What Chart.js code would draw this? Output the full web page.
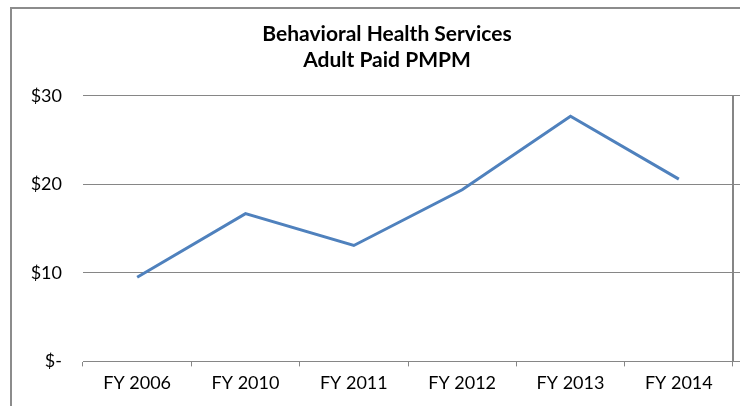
<!DOCTYPE html>
<html>
<head>
<meta charset="utf-8">
<script src="https://cdn.jsdelivr.net/npm/chart.js@4"></script>
<style>
  body { margin: 0; background: #fff; }
  #wrap { width: 740px; height: 406px; overflow: hidden; }
</style>
</head>
<body>
<div id="wrap"><canvas id="chart" width="774" height="406"></canvas></div>
<script>
// Data
const titleLines = ['Behavioral Health Services', 'Adult Paid PMPM'];
const categories = ['FY 2006', 'FY 2010', 'FY 2011', 'FY 2012', 'FY 2013', 'FY 2014'];
const pmpmValues = [9.5, 16.7, 13.1, 19.4, 27.7, 20.6];
const yTicks = [0, 10, 20, 30];

const gridGray = '#868686';

// Excel-style chart frame around the whole chart
const framePlugin = {
    id: 'frame',
    beforeDraw(chart) {
        const c = chart.ctx;
        c.save();
        c.fillStyle = '#fff';
        c.fillRect(0, 0, chart.width, chart.height);
        c.strokeStyle = '#8c8c8c';
        c.lineWidth = 2;
        c.strokeRect(11, 8, chart.width - 22, chart.height + 20);
        c.restore();
    }
};

const fixedTicks = scale => { scale.ticks = yTicks.map(v => ({ value: v })); };

new Chart(document.getElementById('chart'), {
    type: 'line',
    data: {
        labels: categories,
        datasets: [{
            data: pmpmValues,
            borderColor: '#4f81bd',
            borderWidth: 3,
            pointRadius: 0,
            tension: 0,
            fill: false
        }]
    },
    options: {
        responsive: false,
        animation: false,
        layout: { padding: { left: 11, right: 11, top: 8, bottom: 6 } },
        plugins: {
            legend: { display: false },
            tooltip: { enabled: false },
            title: {
                display: true,
                text: titleLines,
                color: '#000',
                font: { family: 'Lato', size: 21, weight: 'bold', lineHeight: 1.2 },
                padding: { top: 14, bottom: 23.5 }
            }
        },
        scales: {
            x: {
                offset: true,
                grid: {
                    offset: true,
                    drawOnChartArea: false,
                    drawTicks: true,
                    tickLength: 5,
                    color: gridGray
                },
                border: { display: true, color: gridGray, width: 1 },
                ticks: {
                    color: '#000',
                    font: { family: 'Lato', size: 18 },
                    padding: 6,
                    maxRotation: 0
                }
            },
            y: {
                min: 0,
                max: 30,
                afterBuildTicks: fixedTicks,
                afterFit: scale => { scale.width = 72; },
                grid: { drawTicks: false, color: gridGray, lineWidth: 1 },
                border: { display: false },
                ticks: {
                    color: '#000',
                    font: { family: 'Lato', size: 18 },
                    padding: 21,
                    callback: v => v === 0 ? '$-' : '$' + v
                }
            },
            // the bare vertical axis on the right side of the plot
            y2: {
                position: 'right',
                min: 0,
                max: 30,
                afterBuildTicks: fixedTicks,
                afterFit: scale => { scale.width = 30; },
                grid: { drawOnChartArea: false, drawTicks: true, tickLength: 8, color: gridGray },
                border: { display: true, color: gridGray, width: 2 },
                ticks: { display: false }
            }
        }
    },
    plugins: [framePlugin]
});
</script>
</body>
</html>
